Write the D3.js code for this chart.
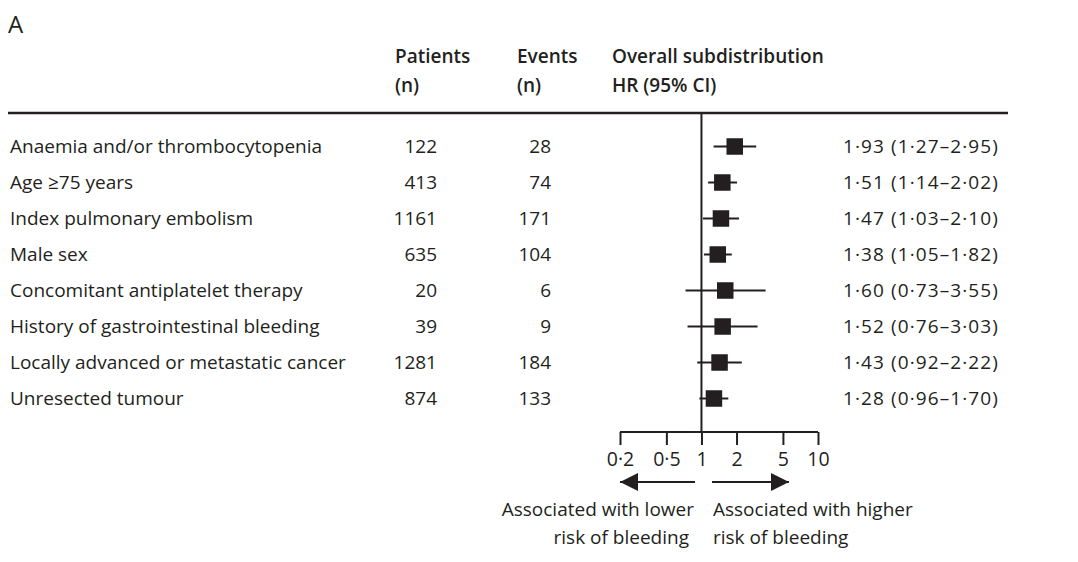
<!DOCTYPE html>
<html>
<head>
<meta charset="utf-8">
<script src="https://cdnjs.cloudflare.com/ajax/libs/d3/7.8.5/d3.min.js"></script>
<style>
  body { margin: 0; background: #fff; }
  svg text { font-family: "Open Sans", "Noto Sans", sans-serif; fill: #231f20; }
</style>
</head>
<body>
<svg class="plotSVG" width="1078" height="562"></svg>
<script>
const factors = [
  'Anaemia and/or thrombocytopenia',
  'Age \u226575 years',
  'Index pulmonary embolism',
  'Male sex',
  'Concomitant antiplatelet therapy',
  'History of gastrointestinal bleeding',
  'Locally advanced or metastatic cancer',
  'Unresected tumour'
];
const patients = [122, 413, 1161, 635, 20, 39, 1281, 874];
const events = [28, 74, 171, 104, 6, 9, 184, 133];
const hr = [1.93, 1.51, 1.47, 1.38, 1.60, 1.52, 1.43, 1.28];
const ciLow = [1.27, 1.14, 1.03, 1.05, 0.73, 0.76, 0.92, 0.96];
const ciHigh = [2.95, 2.02, 2.10, 1.82, 3.55, 3.03, 2.22, 1.70];
const tickValues = [0.2, 0.5, 1, 2, 5, 10];

const ink = '#231f20';
const fmt = v => v.toFixed(2).replace('.', '\u00b7');
const tickFmt = v => String(v).replace('.', '\u00b7');

const rows = factors.map((f, i) => ({
  label: f, n: patients[i], ev: events[i], hr: hr[i], lo: ciLow[i], hi: ciHigh[i]
}));

const svg = d3.select('.plotSVG');
const fs = 19;

const scaleX = d3.scaleLog().domain([0.2, 10]).range([620, 818]);
const scaleY = d3.scaleBand().domain(d3.range(rows.length)).range([128.5, 416.5]).paddingInner(0);

// panel letter
svg.append('text').attr('x', 8).attr('y', 33).attr('font-size', 24).attr('font-weight', 500).text('A');

// headers
const headers = [
  { x: 395, lines: ['Patients', '(n)'] },
  { x: 517, lines: ['Events', '(n)'] },
  { x: 612, lines: ['Overall subdistribution', 'HR (95% CI)'] }
];
headers.forEach(h => {
  h.lines.forEach((t, j) => {
    svg.append('text')
      .attr('x', h.x).attr('y', 63 + j * 29)
      .attr('font-size', fs).attr('font-weight', 600)
      .text(t);
  });
});

svg.append('line')
  .attr('x1', 8).attr('x2', 1008).attr('y1', 113).attr('y2', 113)
  .attr('stroke', ink).attr('stroke-width', 2.5);

// reference line at HR = 1
svg.append('line')
  .attr('x1', scaleX(1)).attr('x2', scaleX(1))
  .attr('y1', 113).attr('y2', 432)
  .attr('stroke', ink).attr('stroke-width', 2);

const rowG = svg.selectAll('.row')
  .data(rows)
  .enter()
  .append('g')
  .attr('class', 'row')
  .attr('transform', (d, i) => `translate(0, ${scaleY(i) + scaleY.bandwidth() / 2})`);

rowG.append('text').attr('x', 10).attr('dy', '0.35em').attr('font-size', fs).text(d => d.label);
rowG.append('text').attr('x', 437).attr('dy', '0.35em').attr('text-anchor', 'end').attr('font-size', fs).text(d => d.n);
rowG.append('text').attr('x', 551).attr('dy', '0.35em').attr('text-anchor', 'end').attr('font-size', fs).text(d => d.ev);
rowG.append('text').attr('x', 843).attr('dy', '0.35em').attr('font-size', fs).attr('letter-spacing', 1.1)
  .text(d => `${fmt(d.hr)} (${fmt(d.lo)}\u2013${fmt(d.hi)})`);

rowG.append('line')
  .attr('x1', d => scaleX(d.lo)).attr('x2', d => scaleX(d.hi))
  .attr('stroke', ink).attr('stroke-width', 2);

const sq = 16.5;
rowG.append('rect')
  .attr('x', d => scaleX(d.hr) - sq / 2).attr('y', -sq / 2)
  .attr('width', sq).attr('height', sq)
  .attr('fill', ink);

// x axis
const axisG = svg.append('g')
  .attr('transform', 'translate(0, 432)')
  .call(d3.axisBottom(scaleX).tickValues(tickValues).tickSize(13).tickSizeOuter(0).tickFormat(tickFmt));
axisG.select('.domain').attr('stroke', ink).attr('stroke-width', 2).attr('d', `M${scaleX(0.2)},0H${scaleX(10)}`);
axisG.selectAll('.tick line').attr('stroke', ink).attr('stroke-width', 2);
axisG.selectAll('.tick text').attr('font-size', 19.5).attr('font-family', '"Open Sans", sans-serif').attr('fill', ink).attr('dy', '0.9em');

// arrows
const defs = svg.append('defs');
defs.append('marker').attr('id', 'arrowHead')
  .attr('viewBox', '0 0 10 10').attr('refX', 10).attr('refY', 5)
  .attr('markerWidth', 20).attr('markerHeight', 18).attr('markerUnits', 'userSpaceOnUse')
  .attr('orient', 'auto-start-reverse')
  .append('path').attr('d', 'M0,0L10,5L0,10Z').attr('fill', ink);

svg.append('line').attr('x1', 695).attr('x2', 620).attr('y1', 482).attr('y2', 482)
  .attr('stroke', ink).attr('stroke-width', 2).attr('marker-end', 'url(#arrowHead)');
svg.append('line').attr('x1', 712).attr('x2', 789).attr('y1', 482).attr('y2', 482)
  .attr('stroke', ink).attr('stroke-width', 2).attr('marker-end', 'url(#arrowHead)');

const noteLeft = ['Associated with lower', 'risk of bleeding'];
const noteRight = ['Associated with higher', 'risk of bleeding'];
noteLeft.forEach((t, j) => {
  svg.append('text').attr('x', j === 0 ? 694 : 689).attr('y', 516 + j * 28)
    .attr('text-anchor', 'end').attr('font-size', fs).text(t);
});
noteRight.forEach((t, j) => {
  svg.append('text').attr('x', 713).attr('y', 516 + j * 28)
    .attr('font-size', fs).text(t);
});
</script>
</body>
</html>
